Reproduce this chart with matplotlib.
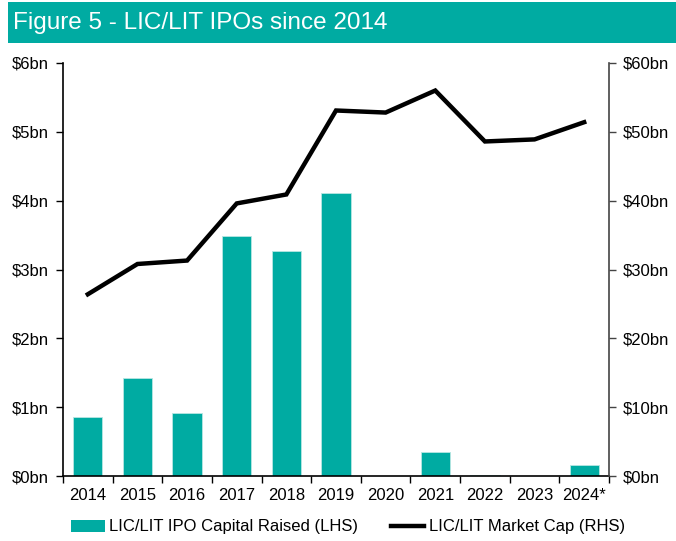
import numpy as np
import matplotlib.pyplot as plt
from matplotlib.patches import Rectangle
from matplotlib.lines import Line2D
from matplotlib.ticker import FixedLocator

plt.rcParams['font.family'] = ['Liberation Sans', 'DejaVu Sans']

years = ['2014', '2015', '2016', '2017', '2018', '2019', '2020', '2021', '2022', '2023', '2024*']
ipo_capital = [0.85, 1.43, 0.91, 3.49, 3.27, 4.11, 0.0, 0.35, 0.01, 0.0, 0.16]   # $bn, LHS
market_cap = [26.4, 30.8, 31.3, 39.6, 40.9, 53.1, 52.8, 56.0, 48.6, 48.9, 51.4]  # $bn, RHS

teal = '#00ABA2'

fig = plt.figure(figsize=(6.76, 5.41), dpi=100)

# title band
fig.patches.append(Rectangle((8 / 676, 1 - 43 / 541), 1 - 8 / 676, 41 / 541,
                             transform=fig.transFigure, facecolor=teal, edgecolor='none'))
fig.text(13 / 676, 1 - 23 / 541, 'Figure 5 - LIC/LIT IPOs since 2014', color='white',
         fontsize=17.5, va='center', ha='left')

ax = fig.add_axes([63 / 676, 1 - 476 / 541, (609 - 63) / 676, (476 - 63) / 541])
x = np.arange(len(years))
ax.bar(x, ipo_capital, width=0.59, color=teal, edgecolor='#B8E6E3', linewidth=0.6)
ax.set_xlim(-0.5, len(years) - 0.5)
ax.set_ylim(0, 6)
ax.set_yticks(range(0, 7))
ax.set_yticklabels([f'${v}bn' for v in range(0, 7)])
ax.set_xticks(x)
ax.set_xticklabels(years)
ax.xaxis.set_minor_locator(FixedLocator(np.arange(-0.5, len(years), 1)))
ax.tick_params(axis='x', which='major', length=0, pad=9, labelsize=12)
ax.tick_params(axis='x', which='minor', length=5, width=1, direction='out')
ax.tick_params(axis='y', length=5, width=1, direction='out', labelsize=12, pad=5)
ax.spines['top'].set_visible(False)
ax.spines['right'].set_visible(False)
for s in ['left', 'bottom']:
    ax.spines[s].set_linewidth(1.2)

ax2 = ax.twinx()
ax2.plot(x, market_cap, color='black', linewidth=3.2, solid_joinstyle='miter')
ax2.set_ylim(0, 60)
ax2.set_yticks(range(0, 70, 10))
ax2.set_yticklabels([f'${v}bn' for v in range(0, 70, 10)])
ax2.tick_params(axis='y', length=5, width=1, direction='out', labelsize=12, pad=5, color='#444444')
ax2.spines['top'].set_visible(False)
ax2.spines['left'].set_visible(False)
ax2.spines['bottom'].set_visible(False)
ax2.spines['right'].set_color('#444444')
ax2.spines['right'].set_linewidth(1.2)

handles = [Rectangle((0, 0), 1, 1, facecolor=teal, edgecolor='none'),
           Line2D([0], [0], color='black', linewidth=3.2)]
fig.legend(handles, ['LIC/LIT IPO Capital Raised (LHS)', 'LIC/LIT Market Cap (RHS)'],
           loc='center', bbox_to_anchor=(348 / 676, 1 - 527 / 541), ncol=2, frameon=False,
           fontsize=12, handlelength=2.0, handletextpad=0.25, columnspacing=2.0)

fig.savefig('out.png', dpi=100)
